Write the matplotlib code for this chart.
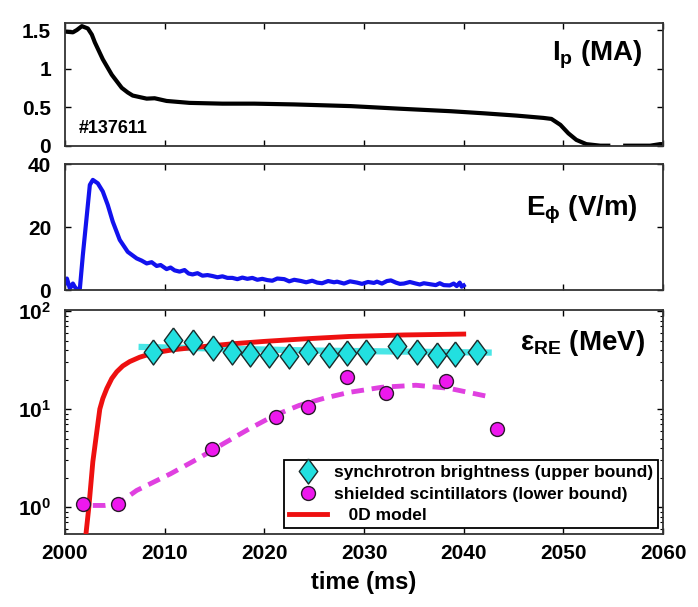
import matplotlib
matplotlib.use("Agg")
import matplotlib.pyplot as plt
import numpy as np
from matplotlib.ticker import LogLocator, NullFormatter, FixedLocator, FixedFormatter

plt.rcParams['font.family'] = ['Liberation Sans', 'DejaVu Sans']
plt.rcParams['font.weight'] = 'bold'
plt.rcParams['axes.labelweight'] = 'bold'
plt.rcParams['mathtext.fontset'] = 'custom'
plt.rcParams['mathtext.rm'] = 'Liberation Sans:bold'
plt.rcParams['mathtext.bf'] = 'Liberation Sans:bold'
plt.rcParams['mathtext.it'] = 'Liberation Sans:bold'

# plasma current, shot 137611
t_ip = [2000.0, 2000.8, 2001.2, 2001.7, 2002.3, 2002.7, 2003.0, 2003.8, 2004.7, 2005.7,
        2006.3, 2006.8, 2007.5, 2008.2, 2009.0, 2010.2, 2012.5, 2015.8, 2019.0, 2023.0,
        2028.7, 2033.5, 2038.7, 2042.0, 2045.3, 2048.0, 2048.8, 2049.7, 2050.5, 2051.3,
        2052.3, 2053.7, 2054.5, 2055.3, 2056.2, 2058.7, 2059.7, 2060.0]
ip = [1.48, 1.47, 1.50, 1.55, 1.52, 1.44, 1.34, 1.12, 0.92, 0.75,
      0.69, 0.65, 0.63, 0.61, 0.615, 0.58, 0.555, 0.545, 0.545, 0.535,
      0.513, 0.48, 0.447, 0.42, 0.39, 0.36, 0.347, 0.27, 0.16, 0.075,
      0.02, 0.0, 0.0, np.nan, 0.0, 0.0, 0.02, 0.02]

# toroidal electric field
t_e = [2000.0, 2000.2, 2000.5, 2000.8, 2001.0, 2001.2, 2001.5, 2001.8, 2002.2, 2002.5,
       2002.8, 2003.3, 2003.8, 2004.3, 2004.8, 2005.5, 2006.3, 2007.2, 2007.7, 2008.2,
       2008.7, 2009.2, 2009.6, 2010.2, 2010.6, 2011.0, 2011.5, 2012.0, 2012.4, 2012.8,
       2013.3, 2013.8, 2014.3, 2014.8, 2015.3, 2015.8, 2016.3, 2016.8, 2017.3, 2017.8,
       2018.3, 2018.8, 2019.3, 2019.8, 2020.3, 2020.8, 2021.3, 2022.0, 2022.5, 2023.0,
       2023.7, 2024.2, 2024.8, 2025.3, 2025.8, 2026.4, 2027.0, 2027.3, 2028.0, 2028.6,
       2029.3, 2029.8, 2030.4, 2031.0, 2031.3, 2031.8, 2032.3, 2032.7, 2033.2, 2033.6,
       2034.0, 2034.6, 2035.2, 2035.6, 2036.0, 2036.6, 2037.2, 2037.6, 2038.0, 2038.6,
       2039.0, 2039.3, 2039.6, 2039.8, 2040.0]
e_phi = [2.1, 3.7, 0.5, 2.1, 1.0, 0.3, 0.5, 11.2, 23.9, 33.5,
         35.1, 34.0, 31.4, 27.1, 21.8, 16.0, 12.2, 10.1, 9.4, 8.5,
         8.9, 7.7, 8.0, 6.7, 7.2, 6.3, 5.9, 6.4, 5.3, 5.0,
         5.4, 4.6, 4.8, 4.5, 4.1, 4.4, 3.9, 3.9, 3.5, 4.0,
         3.6, 3.9, 3.3, 3.6, 3.2, 3.0, 3.7, 3.5, 2.8, 3.3,
         2.9, 2.5, 3.0, 2.4, 2.2, 2.9, 2.5, 2.7, 2.1, 2.8,
         2.4, 2.0, 2.6, 2.3, 2.7, 2.1, 2.9, 3.1, 2.4, 2.0,
         2.1, 2.6, 2.1, 1.8, 2.2, 1.9, 1.6, 2.2, 1.6, 1.5,
         2.1, 1.3, 2.4, 1.1, 1.5]

# runaway electron energy
syn_t = [2008.8, 2010.8, 2012.8, 2014.9, 2016.8, 2018.6, 2020.5, 2022.5, 2024.4,
         2026.5, 2028.3, 2030.2, 2033.3, 2035.3, 2037.3, 2039.1, 2041.3]
syn_e = [38.6, 50.9, 47.8, 41.8, 38.0, 36.6, 35.7, 34.4, 38.6,
         35.7, 37.2, 38.6, 43.5, 38.6, 35.7, 36.3, 38.6]
syn_fit_t = [2007.7, 2025.0, 2042.5]
syn_fit_e = [43.0, 39.5, 37.7]

sci_t = [2001.8, 2005.3, 2014.8, 2021.2, 2024.4, 2028.3, 2032.2, 2038.2, 2043.3]
sci_e = [1.08, 1.08, 3.96, 8.35, 10.6, 21.4, 14.5, 19.4, 6.2]
sci_fit_t = [2002.8, 2004.0, 2005.3, 2007.2, 2010.6, 2013.3, 2016.0, 2018.5, 2021.0,
             2023.5, 2026.0, 2028.5, 2031.8, 2035.2, 2038.5, 2042.5]
sci_fit_e = [1.04, 1.04, 1.08, 1.48, 2.19, 3.1, 4.5, 6.3, 8.6,
             10.9, 12.9, 14.8, 16.7, 17.5, 16.3, 13.4]

model_t = [2001.95, 2002.1, 2002.4, 2002.8, 2003.2, 2003.5, 2003.8, 2004.2, 2004.7,
           2005.2, 2005.8, 2006.5, 2007.5, 2008.8, 2010.8, 2012.5, 2014.5, 2017.0,
           2020.0, 2024.0, 2028.5, 2034.0, 2040.0]
model_e = [0.4, 0.52, 1.0, 2.9, 5.9, 10.0, 12.8, 16.2, 20.5,
           24.0, 27.5, 30.5, 33.8, 37.2, 40.2, 42.0, 44.0, 46.5,
           49.0, 52.0, 55.0, 57.0, 58.2]

# diamond a bit wider than matplotlib's thin diamond
diamond = [(0, 1), (0.74, 0), (0, -1), (-0.74, 0), (0, 1)]

fig = plt.figure(figsize=(6.98, 6.07), dpi=100)
L, W = 0.093, 0.857
ax1 = fig.add_axes([L, 0.760, W, 0.202])
ax2 = fig.add_axes([L, 0.522, W, 0.207])
ax3 = fig.add_axes([L, 0.120, W, 0.369])

for ax in (ax1, ax2, ax3):
    ax.set_xlim(2000, 2060)
    ax.xaxis.set_major_locator(FixedLocator(range(2000, 2061, 10)))
    ax.tick_params(direction='in', top=True, right=True, length=4, width=1,
                   labelsize=15)
    ax.tick_params(axis='x', pad=7)
    ax.tick_params(axis='y', pad=10)
    ax.tick_params(which='minor', direction='in', right=True, length=2.5, width=0.8)
    for s in ax.spines.values():
        s.set_linewidth(1.3)
        s.set_color('#333333')
ax1.tick_params(labelbottom=False)
ax2.tick_params(labelbottom=False)

# Ip
ax1.plot(t_ip, ip, color='black', lw=3.0)
ax1.set_ylim(0, 1.59)
ax1.yaxis.set_major_locator(FixedLocator([0, 0.5, 1, 1.5]))
ax1.yaxis.set_major_formatter(FixedFormatter(['0', '0.5', '1', '1.5']))
ax1.text(0.965, 0.74, r'I$_\mathbf{p}$ (MA)', transform=ax1.transAxes,
         ha='right', va='center', fontsize=20)
ax1.text(0.023, 0.14, '#137611', transform=ax1.transAxes,
         ha='left', va='center', fontsize=13)

# E_phi
ax2.plot(t_e, e_phi, color='#1212ee', lw=3.0)
ax2.set_ylim(0, 40)
ax2.yaxis.set_major_locator(FixedLocator([0, 20, 40]))
ax2.yaxis.set_major_formatter(FixedFormatter(['0', '20', '40']))
ax2.text(0.958, 0.64, r'E$_\mathbf{\phi}$ (V/m)', transform=ax2.transAxes,
         ha='right', va='center', fontsize=20)

# energy
ax3.set_yscale('log')
ax3.plot(syn_fit_t, syn_fit_e, color='#48e6e6', lw=4.5, zorder=2)
ax3.plot(model_t, model_e, color='#ee1010', lw=3.5, zorder=3, label='   0D model')
ax3.plot(sci_fit_t, sci_fit_e, color='#e040e0', lw=3.5, ls=(0, (2.6, 1.6)), zorder=2)
ax3.plot(syn_t, syn_e, ls='none', marker=diamond, ms=18, mfc='#22e0e0', mec='#1a2a2a',
         mew=1.0, zorder=4, label='synchrotron brightness (upper bound)')
ax3.plot(sci_t, sci_e, ls='none', marker='o', ms=10, mfc='#ee18ee', mec='#2a1a2a',
         mew=1.0, zorder=4, label='shielded scintillators (lower bound)')
ax3.set_ylim(0.53, 102)
ax3.yaxis.set_major_locator(FixedLocator([1, 10, 100]))
ax3.yaxis.set_major_formatter(FixedFormatter([r'10$^\mathbf{0}$', r'10$^\mathbf{1}$',
                                              r'10$^\mathbf{2}$']))
ax3.yaxis.set_minor_locator(LogLocator(base=10, subs=np.arange(2, 10)))
ax3.yaxis.set_minor_formatter(NullFormatter())
ax3.text(0.97, 0.853, r'ε$_\mathbf{RE}$ (MeV)', transform=ax3.transAxes,
         ha='right', va='center', fontsize=20)
ax3.set_xlabel('time (ms)', fontsize=17, labelpad=6)

h, lab = ax3.get_legend_handles_labels()
order = [1, 2, 0]
leg = ax3.legend([h[i] for i in order], [lab[i] for i in order],
                 loc='lower right', bbox_to_anchor=(0.992, 0.027), fontsize=12.5,
                 frameon=True, fancybox=False, edgecolor='black', framealpha=1,
                 handlelength=2.2, handletextpad=0.4, borderpad=0.3,
                 labelspacing=0.35, borderaxespad=0)
leg.get_frame().set_linewidth(1.3)

fig.savefig('out.png', dpi=100)
